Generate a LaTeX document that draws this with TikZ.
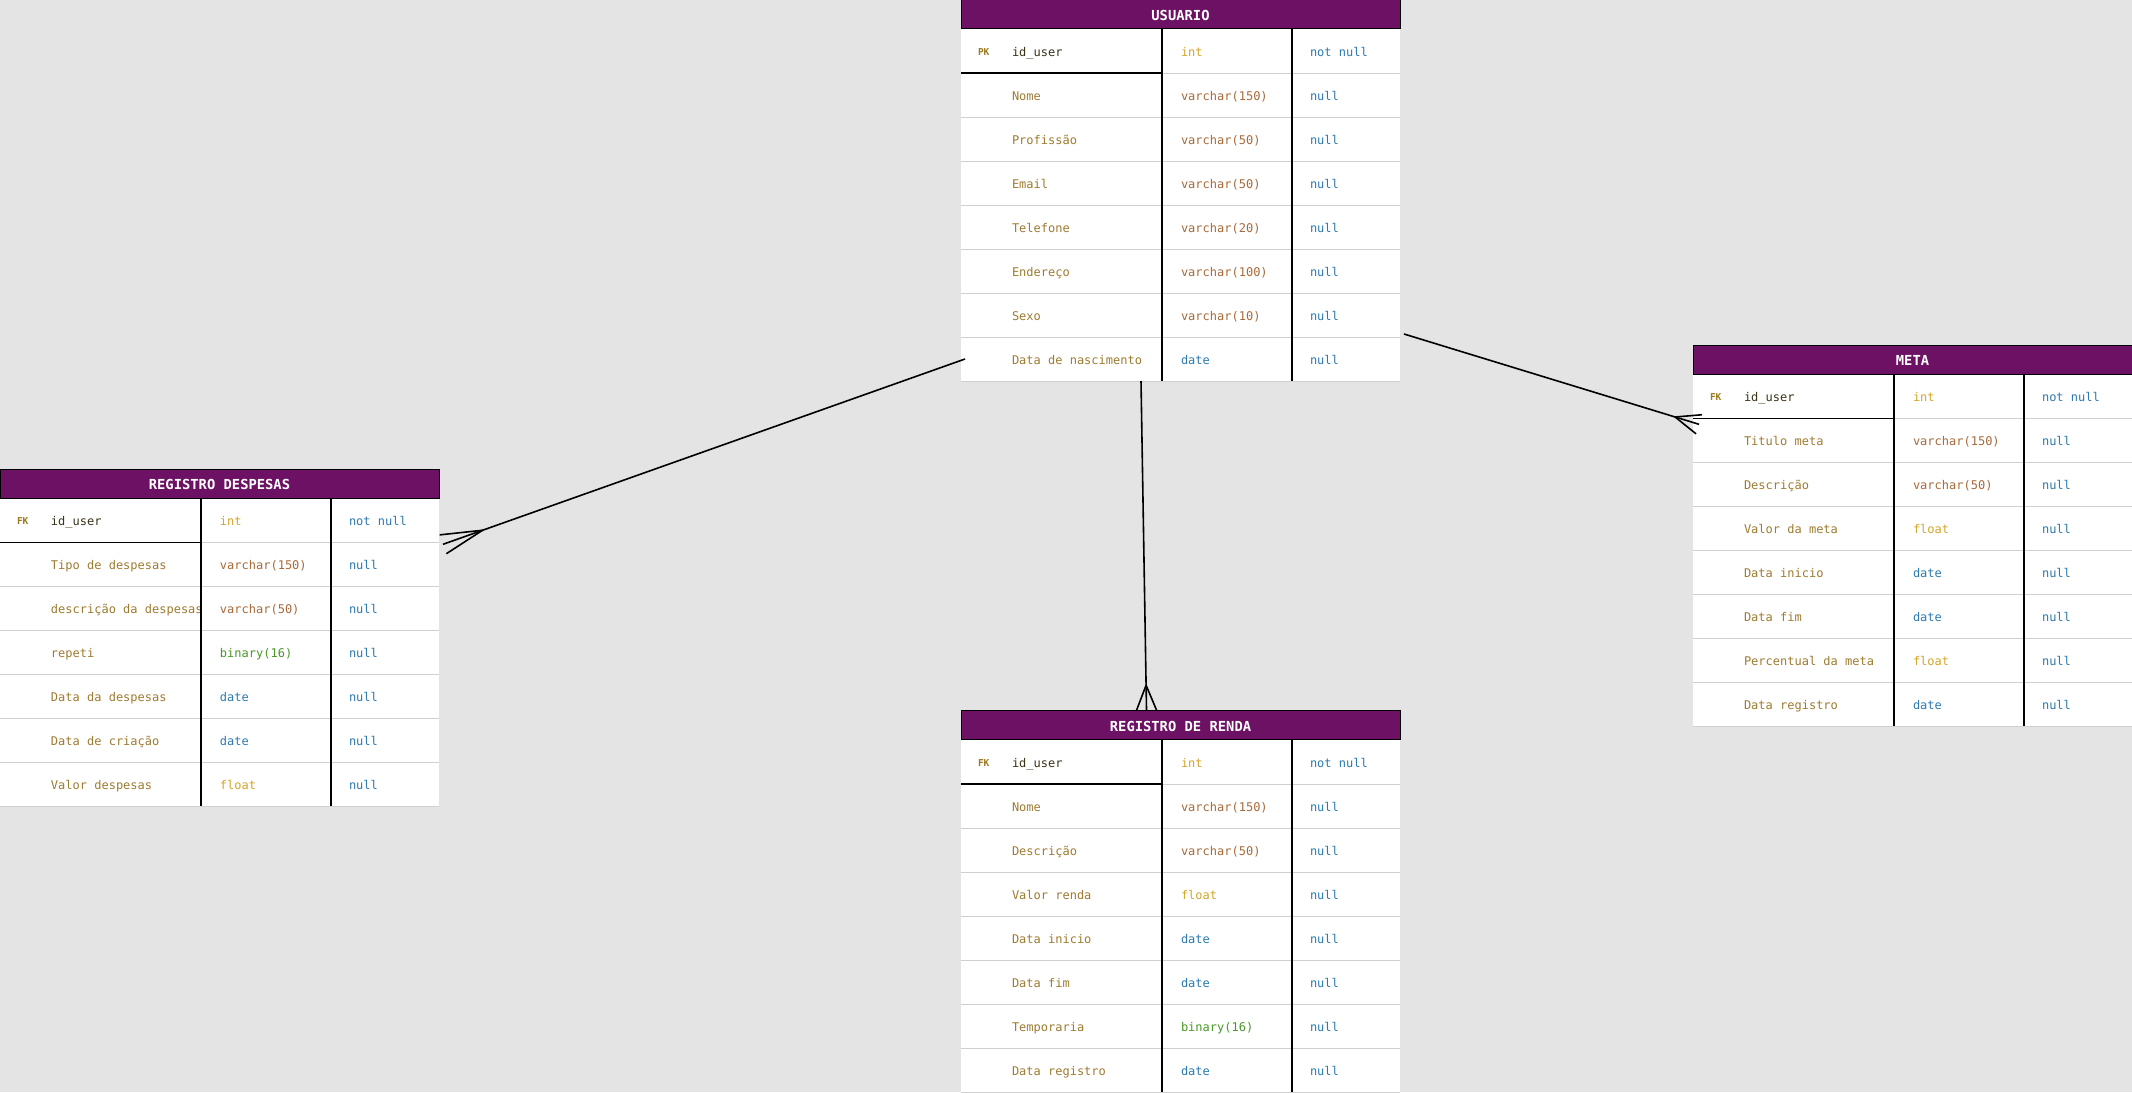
\documentclass[tikz,border=0pt]{standalone}
\usepackage{fontspec}
\setmonofont{DejaVu Sans Mono}
\usepackage{tikz}
\usetikzlibrary{matrix, positioning, calc}

\definecolor{bgcol}{HTML}{E4E4E4}
\definecolor{chdr}{RGB}{108,17,100}
\definecolor{ckey}{HTML}{9C7A1E}
\definecolor{cid}{HTML}{3A3218}
\definecolor{cname}{HTML}{9E7B30}
\definecolor{cnum}{HTML}{D4A52A}
\definecolor{cvar}{HTML}{A86A3A}
\definecolor{cdate}{HTML}{2C7AB0}
\definecolor{cnull}{HTML}{2C7AB0}
\definecolor{cbin}{HTML}{4A9828}
\definecolor{cline}{HTML}{D0D0D0}

\tikzset{
  cell/.style={anchor=center, minimum height=44pt, inner ysep=0pt, outer sep=0pt, align=left,
    text height=12pt, text depth=1pt, font=\ttfamily\fontsize{12}{14}\selectfont,
    execute at begin node={\spaceskip=7.22pt\relax}},
  keycell/.style={text width=17pt, inner xsep=17pt, text=ckey, text height=9.5pt, text depth=0.5pt,
    font=\ttfamily\bfseries\fontsize{9.5}{10}\selectfont},
  namecell/.style={text width=150pt, inner xsep=0pt, text=cname},
  typecell/.style={text width=92pt, inner xsep=19pt, text=cvar},
  nullcell/.style={text width=72pt, inner xsep=18pt, text=cnull},
  tbl/.style={matrix of nodes, nodes in empty cells, anchor=north west, fill=white,
    inner sep=0pt, outer sep=0pt, column sep=0pt, row sep=0pt, nodes={cell},
    column 1/.style={nodes={keycell}}, column 2/.style={nodes={namecell}},
    column 3/.style={nodes={typecell}}, column 4/.style={nodes={nullcell}}},
  hdr/.style={fill=chdr, draw=black, line width=0.8pt, text=white, minimum width=439pt,
    minimum height=29pt, inner sep=0pt, text height=13pt, text depth=0.6pt,
    font=\ttfamily\bfseries\fontsize{13.8}{15}\selectfont,
    execute at begin node={\spaceskip=8.31pt\relax}},
  tid/.style={text=cid}, tnum/.style={text=cnum}, tdate/.style={text=cdate}, tbin/.style={text=cbin},
  rowline/.style={draw=cline, line width=1pt},
  colline/.style={draw=black, line width=1.2pt},
  conn/.style={draw=black, line width=1.6pt, line join=round}
}

\begin{document}
\begin{tikzpicture}[x=1pt, y=1pt]
\useasboundingbox (0,0) rectangle (2132,-1092);
\fill[bgcol] (0,0) rectangle (2132,-1092);

\matrix (usr) [tbl] at (961,-29) {
PK & |[tid]| id\_user & |[tnum]| int & not null \\
 & Nome & varchar(150) & null \\
 & Profissão & varchar(50) & null \\
 & Email & varchar(50) & null \\
 & Telefone & varchar(20) & null \\
 & Endereço & varchar(100) & null \\
 & Sexo & varchar(10) & null \\
 & Data de nascimento & |[tdate]| date & null \\
};
\node[hdr, above=0pt of usr] (usrh) {USUARIO};

\matrix (desp) [tbl] at (0,-498.3) {
FK & |[tid]| id\_user & |[tnum]| int & not null \\
 & Tipo de despesas & varchar(150) & null \\
 & \mbox{descrição da despesas} & varchar(50) & null \\
 & repeti & |[tbin]| binary(16) & null \\
 & Data da despesas & |[tdate]| date & null \\
 & Data de criação & |[tdate]| date & null \\
 & Valor despesas & |[tnum]| float & null \\
};
\node[hdr, above=0pt of desp] (desph) {REGISTRO DESPESAS};

\matrix (meta) [tbl] at (1693,-374.3) {
FK & |[tid]| id\_user & |[tnum]| int & not null \\
 & Titulo meta & varchar(150) & null \\
 & Descrição & varchar(50) & null \\
 & Valor da meta & |[tnum]| float & null \\
 & Data inicio & |[tdate]| date & null \\
 & Data fim & |[tdate]| date & null \\
 & Percentual da meta & |[tnum]| float & null \\
 & Data registro & |[tdate]| date & null \\
};
\node[hdr, above=0pt of meta] (metah) {META};

\matrix (rnd) [tbl] at (961,-740) {
FK & |[tid]| id\_user & |[tnum]| int & not null \\
 & Nome & varchar(150) & null \\
 & Descrição & varchar(50) & null \\
 & Valor renda & |[tnum]| float & null \\
 & Data inicio & |[tdate]| date & null \\
 & Data fim & |[tdate]| date & null \\
 & Temporaria & |[tbin]| binary(16) & null \\
 & Data registro & |[tdate]| date & null \\
};
\node[hdr, above=0pt of rnd] (rndh) {REGISTRO DE RENDA};

\foreach \t/\n in {usr/8, desp/7, meta/8, rnd/8} {
  \draw[rowline] (\t-1-3.south west) -- (\t-1-4.south east);
  \foreach \r in {2,...,\n}
    \draw[rowline] (\t-\r-1.south west) -- (\t-\r-4.south east);
  \draw[colline] (\t-1-1.south west) -- (\t-1-2.south east);
  \draw[colline] (\t-1-2.north east) -- (\t-\n-2.south east);
  \draw[colline] (\t-1-3.north east) -- (\t-\n-3.south east);
}

\coordinate (u1) at ([xshift=4pt]usr-8-1.west);
\coordinate (d1) at ([shift={(4,-2)}]desp-1-4.south east);
\coordinate (u2) at ([shift={(4,3)}]usr-7-4.south east);
\coordinate (m2) at ([shift={(6,-6)}]meta-1-1.south west);
\coordinate (u3) at ([xshift=-21pt]usr-8-2.south east);
\coordinate (r3) at ([xshift=-34pt]rndh.north);

\foreach \a/\b/\l in {u1/d1/42, u2/m2/25, u3/r3/25} {
  \draw[conn] (\a) -- (\b);
  \draw[conn] ($(\b)!10pt!90:(\a)$) -- ($(\b)!\l pt!(\a)$) -- ($(\b)!10pt!-90:(\a)$);
}
\end{tikzpicture}
\end{document}
